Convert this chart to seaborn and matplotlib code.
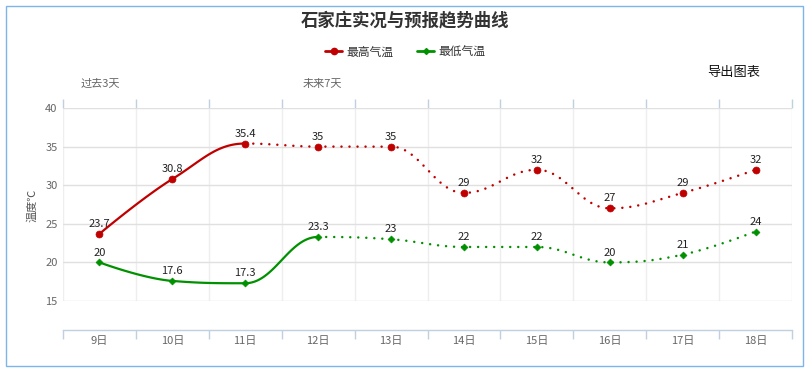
import numpy as np
import pandas as pd
import matplotlib
matplotlib.use('Agg')
import matplotlib.pyplot as plt
import seaborn as sns
from matplotlib.lines import Line2D
from matplotlib.patches import Rectangle

# data
days = ['9日', '10日', '11日', '12日', '13日', '14日', '15日', '16日', '17日', '18日']
max_temp = [23.7, 30.8, 35.4, 35, 35, 29, 32, 27, 29, 32]
min_temp = [20, 17.6, 17.3, 23.3, 23, 22, 22, 20, 21, 24]
max_solid_end = 2   # last observed point index (solid up to here)
min_solid_end = 3
yticks = [15, 20, 25, 30, 35, 40]

red = '#c00000'
green = '#009100'


def spline_segments(xs, ys, smoothing=1.5):
    # highcharts-like spline, one bezier per segment
    n = len(xs)
    left = [None] * n
    right = [None] * n
    d = smoothing + 1
    for i in range(1, n - 1):
        x, y = xs[i], ys[i]
        lx, ly = xs[i - 1], ys[i - 1]
        nx, ny = xs[i + 1], ys[i + 1]
        lcx, lcy = (smoothing * x + lx) / d, (smoothing * y + ly) / d
        rcx, rcy = (smoothing * x + nx) / d, (smoothing * y + ny) / d
        if rcx != lcx:
            corr = ((rcy - lcy) * (rcx - x)) / (rcx - lcx) + y - rcy
            lcy += corr
            rcy += corr
        if lcy > ly and lcy > y:
            lcy = max(ly, y); rcy = 2 * y - lcy
        elif lcy < ly and lcy < y:
            lcy = min(ly, y); rcy = 2 * y - lcy
        if rcy > ny and rcy > y:
            rcy = max(ny, y); lcy = 2 * y - rcy
        elif rcy < ny and rcy < y:
            rcy = min(ny, y); lcy = 2 * y - rcy
        left[i] = (lcx, lcy)
        right[i] = (rcx, rcy)
    t = np.linspace(0, 1, 40)[:, None]
    segs = []
    for i in range(n - 1):
        p0 = np.array([xs[i], ys[i]], float)
        p3 = np.array([xs[i + 1], ys[i + 1]], float)
        p1 = np.array(right[i]) if right[i] is not None else p0
        p2 = np.array(left[i + 1]) if left[i + 1] is not None else p3
        pts = (1 - t) ** 3 * p0 + 3 * (1 - t) ** 2 * t * p1 + 3 * (1 - t) * t ** 2 * p2 + t ** 3 * p3
        segs.append(pts)
    return segs


sns.set_style('white')
plt.rcParams['font.family'] = ['Noto Sans CJK SC', 'DejaVu Sans']

W, H = 811, 372
fig = plt.figure(figsize=(W / 100, H / 100), dpi=100)
ax = fig.add_axes([63 / W, 71 / H, 729 / W, 193 / H])

x = np.arange(len(days))
df = pd.DataFrame({'day': x, 'max': max_temp, 'min': min_temp})

for col, color, solid_end, marker, ms in [('max', red, max_solid_end, 'o', 5),
                                           ('min', green, min_solid_end, 'D', 3.5)]:
    segs = spline_segments(df['day'].values, df[col].values)
    solid = np.vstack(segs[:solid_end])
    dotted = np.vstack(segs[solid_end:])
    ax.plot(solid[:, 0], solid[:, 1], color=color, lw=1.6, solid_capstyle='round', zorder=3)
    ax.plot(dotted[:, 0], dotted[:, 1], color=color, lw=1.8, linestyle=(0, (0.01, 3.2)),
            dash_capstyle='round', zorder=3)
    sns.scatterplot(data=df, x='day', y=col, color=color, marker=marker, s=ms ** 2,
                    edgecolor=color, linewidth=0.5, ax=ax, zorder=4, legend=False)
    for xi, v in zip(x, df[col]):
        ax.annotate(f'{v:g}', (xi, v), xytext=(0, 3.5), textcoords='offset points',
                    ha='center', va='bottom', fontsize=8, color='#222', zorder=5)

ax.set_xlim(-0.5, len(days) - 0.5)
ax.set_ylim(15, 40)
ax.set_yticks(yticks)
ax.set_xticks(x)
ax.set_xticklabels(days)
ax.set_xticks(np.arange(len(days) + 1) - 0.5, minor=True)
ax.set_xlabel('')
ax.set_ylabel('')

ax.grid(axis='y', color='#e0e0e0', lw=1)
ax.grid(axis='x', which='minor', color='#eeeeee', lw=1)
ax.set_axisbelow(True)

for s in ['left', 'right', 'top']:
    ax.spines[s].set_visible(False)
ax.spines['bottom'].set_position(('outward', 21))
ax.spines['bottom'].set_color('#c0d0e0')
ax.spines['bottom'].set_linewidth(1)

ax.tick_params(axis='y', length=0, labelsize=8, labelcolor='#666', pad=4)
ax.tick_params(axis='x', which='major', length=0, labelsize=8, labelcolor='#666', pad=4)
ax.tick_params(axis='x', which='minor', bottom=True, top=True, direction='out',
               length=6.5, width=1, color='#c0d0e0')

# texts
fig.text(0.5, 1 - 20 / H, '石家庄实况与预报趋势曲线', ha='center', va='center',
         fontsize=12.5, fontweight='bold', color='#333')
fig.text(32 / W, 1 - 205 / H, '温度℃', rotation=90, ha='center', va='center',
         fontsize=8, color='#555')
fig.text(734 / W, 1 - 72 / H, '导出图表', ha='center', va='center', fontsize=9.5, color='#111')
fig.text(100 / W, 1 - 84 / H, '过去3天', ha='center', va='center', fontsize=8, color='#666')
fig.text(322 / W, 1 - 84 / H, '未来7天', ha='center', va='center', fontsize=8, color='#666')

handles = [Line2D([0], [0], color=red, marker='o', markersize=4.5, lw=2),
           Line2D([0], [0], color=green, marker='D', markersize=3, lw=2)]
fig.legend(handles, ['最高气温', '最低气温'], loc='center', bbox_to_anchor=(0.5, 1 - 52 / H),
           ncol=2, frameon=False, fontsize=8.5, handlelength=1.4, handletextpad=0.4,
           columnspacing=2.0, labelcolor='#333')

# outer border
fig.patches.append(Rectangle((6 / W, 6 / H), 797 / W, 360 / H, transform=fig.transFigure,
                             fill=False, edgecolor='#7cb5ec', lw=1))

plt.savefig('out.png', dpi=100)
